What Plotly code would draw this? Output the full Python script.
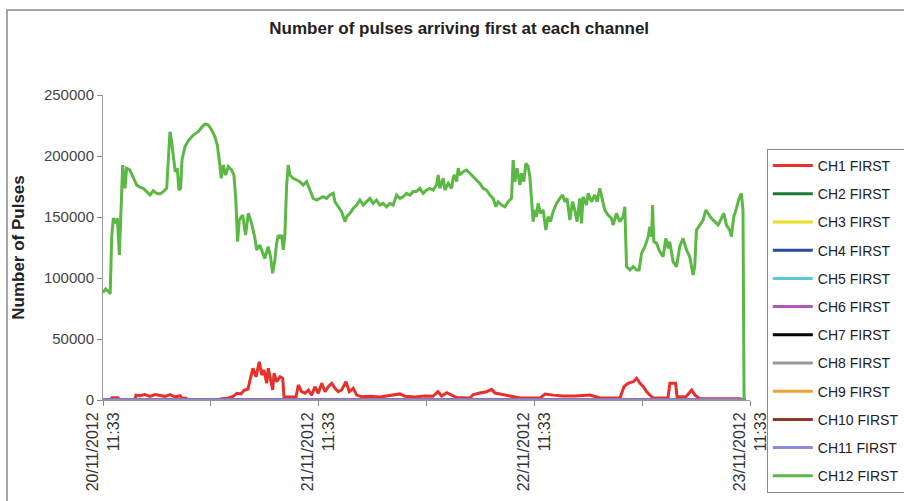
import pandas as pd
import plotly.graph_objects as go

START = "2012-11-20 11:33"

# CH12 FIRST: hours since start, number of pulses
ch12_hours = [0.00, 0.30, 0.60, 0.80, 0.97, 1.15, 1.41, 1.60, 1.82, 1.97, 2.19, 2.45, 2.63, 3.00, 3.37, 3.75,
              4.12, 4.49, 4.86, 5.23, 5.60, 5.97, 6.34, 6.71, 7.09, 7.23, 7.45, 7.64, 7.82, 8.04, 8.27, 8.45,
              8.64, 8.79, 9.12, 9.49, 10.05, 10.60, 10.98, 11.35, 11.72, 12.09, 12.46, 12.72, 12.94, 13.16,
              13.38, 13.65, 13.94, 14.32, 14.57, 14.76, 14.98, 15.16, 15.54, 15.87, 16.17, 16.54, 16.91, 17.10,
              17.46, 17.83, 18.00, 18.39, 18.65, 18.87, 19.13, 19.32, 19.50, 19.69, 19.88, 20.06, 20.24, 20.43,
              20.61, 20.80, 21.17, 21.55, 21.91, 22.28, 22.66, 23.03, 23.39, 23.77, 24.14, 24.51, 24.88, 25.25,
              25.62, 25.81, 26.18, 26.55, 26.92, 27.11, 27.48, 27.85, 28.22, 28.59, 28.96, 29.33, 29.70, 30.07,
              30.44, 30.81, 31.18, 31.56, 31.92, 32.29, 32.67, 33.04, 33.40, 33.78, 34.15, 34.52, 34.89, 35.26,
              35.63, 36.00, 36.37, 36.74, 37.12, 37.30, 37.49, 37.86, 38.05, 38.42, 38.80, 38.98, 39.16, 39.35,
              39.53, 39.71, 40.08, 40.46, 40.82, 41.19, 41.56, 41.94, 42.30, 42.68, 43.05, 43.42, 43.72, 43.97,
              44.35, 44.72, 45.09, 45.46, 45.64, 45.83, 46.09, 46.39, 46.58, 46.83, 47.06, 47.31, 47.50, 47.69,
              47.87, 48.05, 48.24, 48.42, 48.68, 48.98, 49.28, 49.53, 49.80, 50.09, 50.47, 50.84, 51.14, 51.40,
              51.65, 51.95, 52.25, 52.50, 52.76, 53.06, 53.25, 53.43, 53.80, 53.99, 54.36, 54.73, 54.99, 55.28,
              55.47, 55.65, 55.84, 56.21, 56.58, 56.77, 57.14, 57.51, 57.88, 58.07, 58.26, 58.63, 59.00, 59.37,
              59.66, 59.93, 60.30, 60.67, 60.85, 61.05, 61.15, 61.30, 61.60, 61.96, 62.33, 62.63, 62.89, 63.07,
              63.44, 63.82, 64.18, 64.55, 64.93, 65.29, 65.67, 65.85, 66.04, 66.41, 66.78, 67.08, 67.33, 67.71,
              68.08, 68.45, 68.82, 69.08, 69.38, 69.75, 69.93, 70.19, 70.49, 70.78, 71.04, 71.22, 71.34, 71.50]
ch12_values = [88000, 91000, 89000, 87000, 134000, 149000, 145000, 149000, 119000, 150000, 192600, 173500, 190000,
               188500, 181700, 176200, 174300, 173500, 170800, 168000, 171600, 169400, 168900, 170800, 173500,
               191300, 219900, 211700, 199400, 187100, 190000, 172100, 173500, 196700, 207600, 212600, 217200,
               219900, 223500, 226200, 225400, 221300, 215800, 209000, 196700, 181700, 192600, 184400, 191300,
               188500, 184400, 166600, 129800, 147500, 151600, 135300, 153000, 144800, 132500, 123000, 127000,
               120200, 116000, 125700, 117500, 103800, 114800, 128400, 135300, 132500, 135300, 123000, 135300,
               174900, 192600, 184400, 181700, 180300, 179000, 176200, 179000, 172100, 165300, 163900, 165300,
               166600, 165300, 168000, 169400, 162500, 158400, 154400, 146200, 150200, 153000, 157100, 159800,
               163900, 159800, 162500, 165300, 161200, 163900, 159800, 161200, 158400, 161200, 159800, 168000,
               165300, 166600, 169400, 168000, 170800, 170800, 173500, 169400, 172100, 173500, 172100, 176200,
               184400, 173500, 181700, 172100, 177600, 173500, 183000, 184400, 179000, 190000, 184400, 187100,
               188500, 185800, 183000, 180300, 177600, 173500, 172100, 168000, 165300, 158400, 162500, 159800,
               158400, 162500, 165300, 196700, 179000, 190000, 176200, 185800, 179000, 194000, 191300, 183000,
               163900, 146200, 155700, 150200, 161200, 153000, 155700, 139300, 150200, 146200, 154400, 161200,
               165300, 168000, 162500, 165300, 147500, 162500, 155700, 146200, 165300, 144800, 166600, 159800,
               169400, 162500, 168000, 162500, 173500, 166600, 162500, 155700, 151600, 148900, 143400, 153000,
               146200, 150200, 158400, 109300, 106600, 109300, 106600, 106600, 120200, 125700, 133900, 142000,
               133900, 159800, 129800, 128400, 121600, 117500, 132500, 124300, 129800, 113400, 109300, 125700,
               132500, 123000, 117500, 102500, 109300, 139300, 143400, 147500, 155700, 153000, 148900, 146200,
               143400, 148900, 153000, 143400, 139300, 133900, 150200, 157100, 165300, 169400, 155700, 0, 0]

# CH1 FIRST
ch1_hours = [0.00, 0.78, 1.00, 1.67, 1.90, 3.56, 3.67, 4.12, 4.67, 5.23, 5.79, 6.34, 6.90, 7.46, 8.01, 8.57,
             8.79, 9.24, 9.46, 12.69, 13.24, 13.91, 14.47, 14.91, 15.36, 15.69, 16.14, 16.36, 16.69, 17.03,
             17.39, 17.66, 17.92, 18.21, 18.39, 18.66, 18.88, 19.03, 19.33, 19.70, 20.00, 20.14, 20.81, 21.48,
             21.73, 22.11, 22.48, 22.85, 23.22, 23.59, 23.96, 24.34, 24.71, 25.07, 25.45, 25.82, 26.18, 26.56,
             27.04, 27.41, 27.85, 28.23, 28.79, 29.71, 30.83, 31.94, 33.05, 33.61, 34.72, 35.83, 36.72, 37.28,
             37.69, 38.25, 38.80, 39.36, 40.84, 41.21, 41.95, 42.70, 43.26, 43.62, 44.18, 44.93, 46.41, 48.63,
             49.19, 50.11, 51.19, 52.53, 54.19, 55.31, 57.53, 57.98, 58.42, 59.01, 59.39, 59.76, 60.13, 60.50,
             60.87, 61.20, 62.87, 63.09, 63.72, 63.88, 64.88, 65.51, 65.88, 66.44, 70.89, 71.34]
ch1_values = [0, 0, 1900, 1900, 0, 0, 4000, 3500, 4500, 3000, 4500, 4000, 3000, 4500, 2500, 3500,
              1500, 1500, 0, 0, 1000, 1500, 3000, 5500, 5000, 8000, 9000, 16400, 26000, 19000,
              31400, 20500, 24600, 13700, 26000, 16400, 8200, 21900, 15000, 19100, 17800, 2700, 2500, 2500,
              12300, 6800, 5500, 8200, 4000, 10900, 5500, 13700, 6800, 10900, 13700, 9600, 6800, 8200,
              15000, 6800, 9600, 4000, 2700, 3000, 2500, 3500, 5000, 3000, 2500, 3300, 3000, 6800,
              3300, 6000, 4000, 2000, 1700, 4500, 5700, 6800, 8700, 5700, 4900, 4000, 1600, 1600,
              4900, 4000, 3300, 3300, 4000, 1600, 1600, 10900, 13700, 15000, 17800, 13700, 10900, 6800,
              4000, 1600, 1600, 13700, 13700, 2700, 2700, 8200, 4000, 1000, 1000, 0]

# Channels with no first arrivals (flat at zero)
zero_hours = [0.00, 71.50]
zero_values = [0, 0]

channel_names = ["CH1 FIRST", "CH2 FIRST", "CH3 FIRST", "CH4 FIRST", "CH5 FIRST", "CH6 FIRST",
                 "CH7 FIRST", "CH8 FIRST", "CH9 FIRST", "CH10 FIRST", "CH11 FIRST", "CH12 FIRST"]
channel_colors = ["#e8302a", "#1f7a3a", "#e8e020", "#2a4a9a", "#5bc8e0", "#b05aba",
                  "#000000", "#999999", "#f0a030", "#8b3a2a", "#8c8cdc", "#5cb845"]

day_hours = [0, 12, 24, 36, 48, 60, 72]
day_labels = ["20/11/2012<br>11:33", "", "21/11/2012<br>11:33", "", "22/11/2012<br>11:33", "",
              "23/11/2012<br>11:33"]

start = pd.Timestamp(START)


def to_time(hours):
    return [start + pd.Timedelta(hours=h) for h in hours]


fig = go.Figure()
for i, (name, color) in enumerate(zip(channel_names, channel_colors)):
    if i == 0:
        hx, hy = ch1_hours, ch1_values
    elif i == 11:
        hx, hy = ch12_hours, ch12_values
    else:
        hx, hy = zero_hours, zero_values
    fig.add_trace(go.Scatter(x=to_time(hx), y=hy, mode="lines", name=name,
                             legendgroup=name, line=dict(color=color, width=3)))

fig.update_layout(
    width=904, height=501,
    margin=dict(l=103, r=154, t=95, b=101, autoexpand=False),
    paper_bgcolor="white", plot_bgcolor="white",
    font=dict(family="Liberation Sans, Arial, sans-serif", color="#333333", size=14),
    title=dict(text="<b>Number of pulses arriving first at each channel</b>",
               x=0.508, xanchor="center", y=1 - 28 / 501, yanchor="middle",
               font=dict(size=17, color="#222222")),
    showlegend=True,
    legend=dict(x=1.026, xanchor="left", y=0.823, yanchor="top",
                bordercolor="#8a8a8a", borderwidth=1, bgcolor="white",
                font=dict(size=14, color="#222222"), tracegroupgap=7,
                entrywidth=150, itemwidth=40, maxheight=380),
    xaxis=dict(type="date", range=[start, start + pd.Timedelta(hours=72)],
               tickmode="array", tickvals=to_time(day_hours), ticktext=day_labels,
               tickangle=-90, ticks="outside", ticklen=5, tickcolor="#888888",
               showline=True, linecolor="#999999", linewidth=1, showgrid=False, zeroline=False,
               layer="below traces",
               tickfont=dict(size=16, color="#333333")),
    yaxis=dict(range=[0, 250000], dtick=50000, tickformat="d", ticks="outside", ticklen=5,
               tickcolor="#888888", showline=True, linecolor="#999999", linewidth=1,
               showgrid=False, zeroline=False, tickfont=dict(size=15, color="#444444"),
               layer="below traces",
               title=dict(text="<b>Number of Pulses</b>", font=dict(size=17, color="#222222"),
                          standoff=14)),
)

# outer frame of the original figure
fig.add_shape(type="rect", xref="paper", yref="paper",
              x0=-0.1484, x1=1.26, y0=-0.4, y1=1.2787,
              line=dict(color="#8a8a8a", width=1.5), fillcolor="rgba(0,0,0,0)", layer="below")

fig.write_html("out.html")
